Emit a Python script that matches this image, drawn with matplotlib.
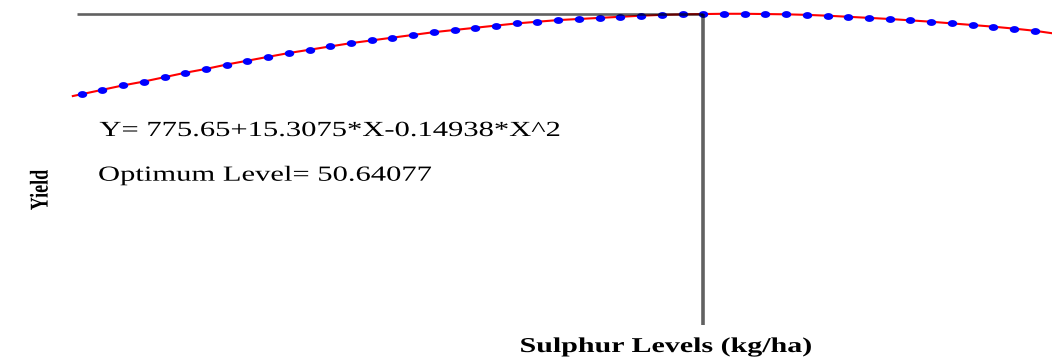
import numpy as np
import matplotlib
matplotlib.use("Agg")
import matplotlib.pyplot as plt
from matplotlib.patheffects import AbstractPathEffect
from matplotlib.transforms import Affine2D

# sulphur levels of the plotted points and the yields
levels = [38.64, 39.04, 39.44, 39.84, 40.24, 40.64, 41.04, 41.44, 41.84, 42.24,
          42.64, 43.04, 43.44, 43.84, 44.24, 44.64, 45.04, 45.44, 45.84, 46.24,
          46.64, 47.04, 47.44, 47.84, 48.24, 48.64, 49.04, 49.44, 49.84, 50.24,
          50.64, 51.04, 51.44, 51.84, 52.24, 52.64, 53.04, 53.44, 53.84, 54.24,
          54.64, 55.04, 55.44, 55.84, 56.24, 56.64, 57.04]
yields = [1143.95, 1145.25, 1146.55, 1147.68, 1148.98, 1150.28, 1151.41, 1152.71,
          1153.84, 1154.98, 1156.11, 1157.08, 1158.06, 1159.03, 1159.84, 1160.65,
          1161.46, 1162.27, 1162.92, 1163.57, 1164.22, 1164.86, 1165.35, 1165.84,
          1166.16, 1166.49, 1166.81, 1167.13, 1167.38, 1167.54, 1167.62, 1167.70,
          1167.70, 1167.62, 1167.54, 1167.38, 1167.13, 1166.81, 1166.49, 1166.16,
          1165.76, 1165.35, 1164.86, 1164.38, 1163.89, 1163.32, 1162.68]

# red fitted line: same points plus the two ends seen at the edges
fit_x = [38.47] + levels + [57.40]
fit_y = [1143.40] + yields + [1161.90]

optimum = 50.64077
optimum_yield = 1167.70
hline_start = 38.56
vline_bottom = 1075.8

equation = "Y= 775.65+15.3075*X-0.14938*X^2"
opt_text = "Optimum Level= 50.64077"
xlabel = "Sulphur Levels (kg/ha)"
ylabel = "Yield"


class StretchX(AbstractPathEffect):
    # the reference text is wider than normal Times, stretch it sideways
    def __init__(self, sx):
        super().__init__()
        self.sx = sx

    def draw_path(self, renderer, gc, tpath, affine, rgbFace=None):
        bb = tpath.get_extents(affine)
        cx = (bb.x0 + bb.x1) / 2
        t = affine + Affine2D().translate(-cx, 0).scale(self.sx, 1).translate(cx, 0)
        renderer.draw_path(gc, tpath, t, rgbFace)


plt.rcParams['font.family'] = ['Liberation Serif', 'DejaVu Serif']
W, H = 1052, 357
fig = plt.figure(figsize=(W / 100, H / 100), dpi=100)
ax = fig.add_axes([0, 0, 1, 1])
ax.axis('off')
ax.set_xlim(37.064, 57.373)
ax.set_ylim(1066.33, 1171.77)

t = np.linspace(0, 2 * np.pi, 40)
ellipse = np.column_stack([1.38 * np.cos(t), np.sin(t)])

ax.plot(fit_x, fit_y, color='#ff0000', lw=1.5, zorder=2)
ax.plot(levels, yields, ls='none', marker=ellipse, ms=6.8, mfc='#0000ff',
        mec='#0000ff', mew=0, zorder=3)
ax.plot([hline_start, optimum], [optimum_yield, optimum_yield], color='black',
        alpha=0.62, lw=1.9, solid_capstyle='butt', zorder=4)
ax.plot([optimum, optimum], [vline_bottom, optimum_yield], color='black',
        alpha=0.62, lw=2.6, solid_capstyle='butt', zorder=4)

st = [StretchX(1.42)]
fig.text(329.5 / W, 1 - 136 / H, equation, fontsize=15.5, ha='center',
         va='baseline', path_effects=st)
fig.text(265 / W, 1 - 180.7 / H, opt_text, fontsize=15.5, ha='center',
         va='baseline', path_effects=st)
fig.text(666 / W, 1 - 352 / H, xlabel, fontsize=15.2, fontweight='bold',
         ha='center', va='baseline', path_effects=st)
fig.text(40.5 / W, 1 - 190 / H, ylabel, fontsize=13, fontweight='bold',
         rotation=90, ha='center', va='center', path_effects=st)

fig.savefig('out.png', dpi=100)
